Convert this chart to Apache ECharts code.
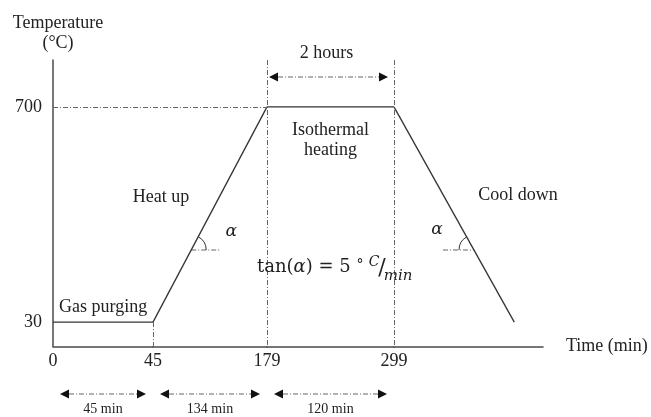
<!DOCTYPE html>
<html><head><meta charset="utf-8">
<script src="https://cdn.jsdelivr.net/npm/echarts@6/dist/echarts.min.js"></script>
<style>html,body{margin:0;padding:0;background:#fff}#c{width:651px;height:417px}</style>
</head><body><div id="c"></div>
<script>
// ---------------- data ----------------
const timeTicks = [0, 45, 179, 299];            // min
const tempTicks = [30, 700];                    // °C
const profileTime = [0, 45, 179, 299, 433];     // min
const profileTemp = [30, 30, 700, 700, 30];     // °C
const stageLabels = ['Gas purging', 'Heat up', 'Isothermal\nheating', 'Cool down'];
const durationLabels = ['45 min', '134 min', '120 min'];
const holdLabel = '2 hours';
const heatingRate = 5; // °C/min

// ---------------- layout / style ----------------
const FONT = '"Liberation Serif", "Times New Roman", serif';
const MATH = '"DejaVu Serif", serif';
const TXT = '#222', AX = '#4a4a4a', LN = '#333', DASH = '#666';
const DASHDOT = [5, 2, 1, 2];
const timeEnd = 465;                               // axis extends past the last point
const segBounds = timeTicks.concat([timeEnd]);     // schematic (non-uniform) time axis pieces
const segPx = [53, 153, 267, 394, 543];            // pixel breaks of the pieces
const yMin = -46, yMax = 846;
const gridTop = 60, gridHeight = 286.5;

const chart = echarts.init(document.getElementById('c'), null, {renderer: 'canvas'});

const grids = [], xAxes = [], yAxes = [], series = [];
for (let i = 0; i < 4; i++) {
  grids.push({left: segPx[i], width: segPx[i + 1] - segPx[i], top: gridTop, height: gridHeight, containLabel: false});
  xAxes.push({
    gridIndex: i, type: 'value', min: segBounds[i], max: segBounds[i + 1],
    axisLine: {show: true, onZero: false, lineStyle: {color: AX, width: 1.5}},
    axisTick: {show: false}, splitLine: {show: false},
    axisLabel: {customValues: [timeTicks[i]], color: TXT, fontSize: 18, fontFamily: FONT, margin: 6},
    name: i === 3 ? 'Time (min)' : '', nameLocation: 'end', nameGap: 23,
    nameTextStyle: {color: TXT, fontSize: 18, fontFamily: FONT, verticalAlign: 'middle', padding: [0, 0, 9, 0]}
  });
  yAxes.push({
    gridIndex: i, type: 'value', min: yMin, max: yMax, show: i === 0,
    axisLine: {show: true, onZero: false, lineStyle: {color: AX, width: 1.5}},
    axisTick: {show: false}, splitLine: {show: false},
    axisLabel: {customValues: tempTicks, color: TXT, fontSize: 18, fontFamily: FONT, margin: 11},
    name: 'Temperature\n(°C)', nameLocation: 'end', nameGap: 7,
    nameTextStyle: {color: TXT, fontSize: 18, fontFamily: FONT, align: 'center', verticalAlign: 'bottom', lineHeight: 20, padding: [0, 0, 0, 10]}
  });
}

const mlStyle = {color: DASH, width: 1, type: DASHDOT};
const markLines = [
  [[{coord: [timeTicks[0], tempTicks[1]]}, {coord: [timeTicks[1], tempTicks[1]]}]],
  [[{coord: [timeTicks[1], tempTicks[0]]}, {coord: [timeTicks[1], yMin]}],
   [{coord: [timeTicks[1], tempTicks[1]]}, {coord: [timeTicks[2], tempTicks[1]]}]],
  [[{coord: [timeTicks[2], yMax]}, {coord: [timeTicks[2], yMin]}],
   [{coord: [timeTicks[3], yMax]}, {coord: [timeTicks[3], yMin]}]],
  []
];
for (let i = 0; i < 4; i++) {
  series.push({
    type: 'line', xAxisIndex: i, yAxisIndex: i, clip: false, silent: true,
    symbol: 'none', lineStyle: {color: LN, width: 1.3},
    data: [[profileTime[i], profileTemp[i]], [profileTime[i + 1], profileTemp[i + 1]]],
    markLine: {silent: true, symbol: 'none', label: {show: false}, lineStyle: mlStyle,
               emphasis: {disabled: true}, data: markLines[i]}
  });
}

chart.setOption({
  animation: false, backgroundColor: '#fff',
  grid: grids, xAxis: xAxes, yAxis: yAxes, series: series
});

// ---------------- annotations placed through the axes ----------------
function px(t, T) {
  let i = 0;
  while (i < 3 && t > segBounds[i + 1]) i++;
  return chart.convertToPixel({gridIndex: i}, [t, T]);
}
function txt(text, x, y, opt) {
  opt = opt || {};
  const size = opt.size || 18, fam = opt.family || FONT, st = opt.italic ? 'italic ' : '';
  return {type: 'text', silent: true, z: 10, style: {
    text: text, x: x, y: y, fill: TXT,
    font: st + size + 'px ' + fam, fontSize: size, fontFamily: fam, fontStyle: opt.italic ? 'italic' : 'normal',
    textAlign: opt.align || 'center', align: opt.align || 'center',
    textVerticalAlign: 'middle', verticalAlign: 'middle', lineHeight: opt.lh || size + 2,
    rich: opt.rich
  }};
}
function arrow(x1, x2, y) {
  const h = 9, w = 4.5;
  return [
    {type: 'line', silent: true, shape: {x1: x1 + h, y1: y, x2: x2 - h, y2: y},
     style: {stroke: DASH, lineWidth: 1, lineDash: DASHDOT}},
    {type: 'polygon', silent: true, shape: {points: [[x1, y], [x1 + h, y - w], [x1 + h, y + w]]}, style: {fill: '#111'}},
    {type: 'polygon', silent: true, shape: {points: [[x2, y], [x2 - h, y - w], [x2 - h, y + w]]}, style: {fill: '#111'}}
  ];
}

const g = [];
// duration arrows under the time axis
const arrowY = 394, inset = 7;
for (let k = 0; k < 3; k++) {
  const a = px(timeTicks[k], 0)[0], b = px(timeTicks[k + 1], 0)[0];
  g.push(...arrow(a + inset, b - inset, arrowY));
  g.push(txt(durationLabels[k], (a + b) / 2, 409, {size: 14}));
}
// holding time arrow
const h1 = px(timeTicks[2], 700)[0], h2 = px(timeTicks[3], 700)[0];
g.push(...arrow(h1 + 2, h2 - 6, 77));
g.push(txt(holdLabel, (h1 + h2) / 2 - 4, 53));

// stage labels
g.push(txt(stageLabels[0], 59, 307, {align: 'left'}));
g.push(txt(stageLabels[1], 161, 197));
g.push(txt(stageLabels[2], (h1 + h2) / 2, 140, {lh: 20}));
g.push(txt(stageLabels[3], 518, 195));

// angle marks on ramps
const arcY = 250, r = 15;
const p1 = px(profileTime[1], profileTemp[1]), p2 = px(profileTime[2], profileTemp[2]);
const p3 = px(profileTime[3], profileTemp[3]), p4 = px(profileTime[4], profileTemp[4]);
const cx1 = p1[0] + (p1[1] - arcY) / (p1[1] - p2[1]) * (p2[0] - p1[0]);
const cx2 = p3[0] + (arcY - p3[1]) / (p4[1] - p3[1]) * (p4[0] - p3[0]);
const ang1 = Math.atan2(p2[1] - p1[1], p2[0] - p1[0]);
const ang2 = Math.atan2(p3[1] - arcY, p3[0] - cx2) + 2 * Math.PI;
g.push({type: 'line', silent: true, shape: {x1: cx1, y1: arcY, x2: cx1 + 29, y2: arcY}, style: {stroke: DASH, lineWidth: 1, lineDash: DASHDOT}});
g.push({type: 'arc', silent: true, shape: {cx: cx1, cy: arcY, r: r, startAngle: ang1, endAngle: 0, clockwise: true}, style: {stroke: LN, lineWidth: 1, fill: null}});
g.push({type: 'line', silent: true, shape: {x1: cx2 - 31, y1: arcY, x2: cx2, y2: arcY}, style: {stroke: DASH, lineWidth: 1, lineDash: DASHDOT}});
g.push({type: 'arc', silent: true, shape: {cx: cx2, cy: arcY, r: r, startAngle: Math.PI, endAngle: ang2, clockwise: true}, style: {stroke: LN, lineWidth: 1, fill: null}});
g.push(txt('α', cx1 + 40, 232, {italic: true, family: MATH, size: 17}));
g.push(txt('α', cx2 - 37, 230, {italic: true, family: MATH, size: 17}));

// heating rate expression
g.push(txt('{n|tan(}{i|α}{n|) = ' + heatingRate + '}', 257, 267, {align: 'left', family: MATH, size: 18, rich: {
  n: {fontSize: 18, fontFamily: MATH, fill: TXT, color: TXT},
  i: {fontSize: 18, fontFamily: MATH, fontStyle: 'italic', fill: TXT, color: TXT}
}}));
g.push(txt('°', 360, 265, {size: 14, family: MATH}));
g.push(txt('C', 374, 262, {size: 14, family: MATH, italic: true}));
g.push(txt('/', 382, 268, {size: 22, family: MATH}));
g.push(txt('min', 398, 276, {size: 15, family: MATH, italic: true}));

chart.setOption({graphic: {elements: g}});
</script></body></html>
